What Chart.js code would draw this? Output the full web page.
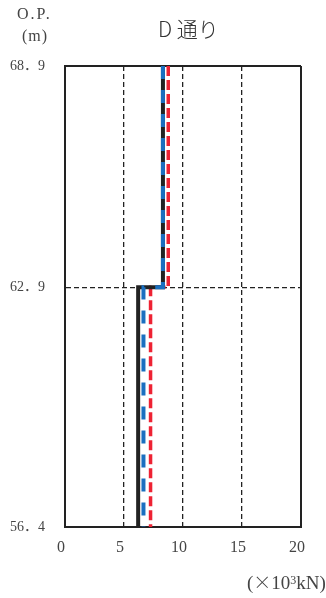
<!DOCTYPE html>
<html>
<head>
<meta charset="utf-8">
<script src="https://cdn.jsdelivr.net/npm/chart.js@4/dist/chart.umd.min.js"></script>
<style>
  html,body{margin:0;padding:0;background:#fff;}
  #wrap{position:relative;width:326px;height:598px;}
  .lbl{position:absolute;font-family:"Liberation Serif","Noto Sans CJK JP",serif;color:#444;white-space:nowrap;}
</style>
</head>
<body>
<div id="wrap">
  <canvas id="c"></canvas>
  <div class="lbl" style="left:17px;top:5px;font-size:16px;letter-spacing:2px;">O.P.</div>
  <div class="lbl" style="left:22px;top:27px;font-size:16px;letter-spacing:1px;">(m)</div>
  <div class="lbl" style="left:158px;top:13px;font-size:21px;font-family:'Noto Sans CJK JP',serif;font-weight:300;color:#333;">D 通り</div>
  <div class="lbl" style="left:247px;top:568px;font-size:19px;">(<span style="font-family:'Noto Sans CJK JP';font-weight:300;font-size:18px;">×</span>10<span style="font-size:12px;vertical-align:5px;">3</span>kN)</div>
</div>
<script>
(function () {
  'use strict';

  /* floor levels O.P.(m), top -> bottom */
  var levels = [68.9, 62.9, 56.4];
  var xTicks = [0, 5, 10, 15, 20];
  /* values per storey: upper, lower (x10^3 kN) */
  var blackVals = [8.3, 6.2];
  var blueVals  = [8.3, 6.65];
  var redVals   = [8.75, 7.25];

  function steps(v){
    return [
      {x:v[0], y:levels[0]}, {x:v[0], y:levels[1]},
      {x:v[1], y:levels[1]}, {x:v[1], y:levels[2]}
    ];
  }

  var fam = '"Liberation Serif", "Noto Sans CJK JP", serif';
  var ink = '#222';

  new Chart(document.getElementById('c'), {
    type: 'line',
    data: {
      datasets: [
        { data: steps(redVals),   borderColor:'#ee2233', borderWidth:3.5, borderDash:[10,4], pointRadius:0, fill:false, order:3 },
        { data: steps(blackVals), borderColor:ink,       borderWidth:4, pointRadius:0, fill:false, order:2 },
        { data: steps(blueVals),  borderColor:'#1a6fc0', borderWidth:4, borderDash:[13,11], pointRadius:0, fill:false, order:1 }
      ]
    },
    options: {
      responsive: true, maintainAspectRatio: false, animation: false,
      layout: { padding: { top:66, right:25, left:0, bottom:0 } },
      plugins: { legend:{display:false}, tooltip:{enabled:false}, title:{display:false} },
      scales: {
        x: {
          type:'linear', min:0, max:20,
          afterBuildTicks: function(s){ s.ticks = xTicks.map(function(v){return {value:v};}); },
          afterFit: function(s){ s.height = 71; },
          ticks: { color:'#444', font:{family:fam, size:16}, padding:11, labelOffset:-4 },
          grid: {
            drawTicks:false, color:ink,
            lineWidth: function(c){ return c.tick && (c.tick.value===0||c.tick.value===20) ? 2 : 1.3; }
          },
          border: { display:true, color:ink, width:2,
            dash: function(c){ return c.tick && (c.tick.value===0||c.tick.value===20) ? [] : [5,3]; } }
        },
        y: {
          type:'linear', min:levels[2], max:levels[0],
          afterBuildTicks: function(s){ s.ticks = levels.map(function(v){return {value:v};}); },
          afterFit: function(s){ s.width = 65; },
          ticks: { color:'#444', font:{family:fam, size:14}, padding:20,
            callback:function(v){ return v.toFixed(1).replace('.', '．'); } },
          grid: {
            drawTicks:false, color:ink,
            lineWidth: function(c){ return c.tick && c.tick.value===levels[1] ? 1.3 : 2; }
          },
          border: { display:true, color:ink, width:2,
            dash: function(c){ return c.tick && c.tick.value===levels[1] ? [5,3] : []; } }
        }
      }
    }
  });
})();
</script>
</body>
</html>
